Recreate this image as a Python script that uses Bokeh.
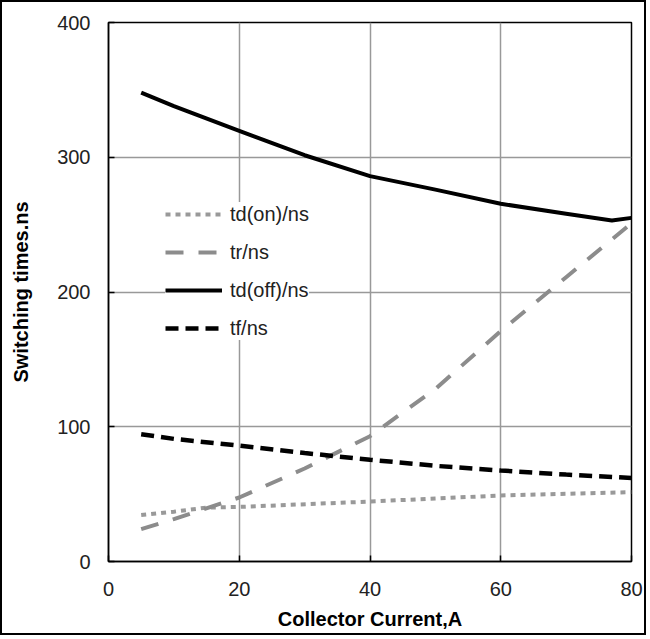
from bokeh.plotting import figure
from bokeh.models import Range1d, Legend, LegendItem, FixedTicker
from bokeh.embed import file_html
from bokeh.resources import INLINE

# ---- data ----
x_td_on = [5, 10, 15, 20, 40, 60, 80]
td_on = [34.5, 37.0, 40.0, 40.5, 44.5, 49.0, 51.5]

x_tr = [5, 10, 20, 30, 40, 50, 60, 70, 80]
tr = [24.0, 31.5, 47.5, 69.0, 93.0, 128.0, 171.0, 211.0, 251.0]

x_td_off = [5, 10, 20, 30, 40, 50, 60, 70, 77, 80]
td_off = [348.0, 338.0, 319.5, 301.5, 286.0, 276.0, 265.5, 258.0, 253.0, 255.0]

x_tf = [5, 10, 20, 30, 40, 50, 60, 70, 80]
tf = [94.5, 91.0, 86.0, 80.5, 75.5, 71.0, 67.5, 64.5, 62.0]

x_ticks = [0, 20, 40, 60, 80]
y_ticks = [0, 100, 200, 300, 400]

names = ["td(on)/ns", "tr/ns", "td(off)/ns", "tf/ns"]

FONT = "Liberation Sans"

p = figure(width=646, height=635, output_backend="svg", toolbar_location=None,
           x_range=Range1d(0, 80), y_range=Range1d(0, 400),
           min_border_left=106, min_border_right=17, min_border_top=20,
           min_border_bottom=76)
p.styles = {"border": "2px solid black"}
p.background_fill_color = "white"
p.border_fill_color = "white"
p.outline_line_color = "black"
p.outline_line_width = 1.5

for ax in (p.xaxis[0], p.yaxis[0]):
    ax.major_label_text_font = FONT
    ax.major_label_text_font_size = "20px"
    ax.major_label_text_color = "#222222"
    ax.axis_label_text_font = FONT
    ax.axis_label_text_font_size = "20px"
    ax.axis_label_text_font_style = "bold"
    ax.axis_label_text_color = "black"
    ax.axis_line_color = "black"
    ax.axis_line_width = 1.5
    ax.major_tick_in = 6
    ax.major_tick_out = 0
    ax.major_tick_line_color = "black"
    ax.major_tick_line_width = 1.5
    ax.minor_tick_line_color = None

p.xaxis.ticker = FixedTicker(ticks=x_ticks)
p.yaxis.ticker = FixedTicker(ticks=y_ticks)
p.xaxis.axis_label = "Collector Current,A"
p.yaxis.axis_label = "Switching times.ns"
p.yaxis.major_label_standoff = 18
p.yaxis.axis_label_standoff = 22
p.xaxis.major_label_standoff = 20
p.xaxis.axis_label_standoff = 9

p.xgrid.grid_line_color = "#999999"
p.ygrid.grid_line_color = "#999999"
p.xgrid.grid_line_width = 1.5
p.ygrid.grid_line_width = 1.5

r1 = p.line(x_td_on, td_on, line_color="#999999", line_width=4, line_dash="5 5")
r2 = p.line(x_tr, tr, line_color="#8c8c8c", line_width=4, line_dash="18 15")
r3 = p.line(x_td_off, td_off, line_color="black", line_width=4, line_join="round")
r4 = p.line(x_tf, tf, line_color="black", line_width=4.5, line_dash="13 7")

legend = Legend(items=[LegendItem(label=names[0], renderers=[r1]),
                       LegendItem(label=names[1], renderers=[r2]),
                       LegendItem(label=names[2], renderers=[r3]),
                       LegendItem(label=names[3], renderers=[r4])],
                location=(57, 221))
legend.border_line_color = None
legend.background_fill_color = "white"
legend.background_fill_alpha = 1.0
legend.label_text_font = FONT
legend.label_text_font_size = "20px"
legend.label_text_color = "#222222"
legend.glyph_width = 57
legend.glyph_height = 24
legend.label_height = 24
legend.spacing = 14
legend.padding = 10
legend.margin = 0
legend.label_standoff = 8
p.add_layout(legend, "center")

open("out.html", "w").write(file_html(p, INLINE))
